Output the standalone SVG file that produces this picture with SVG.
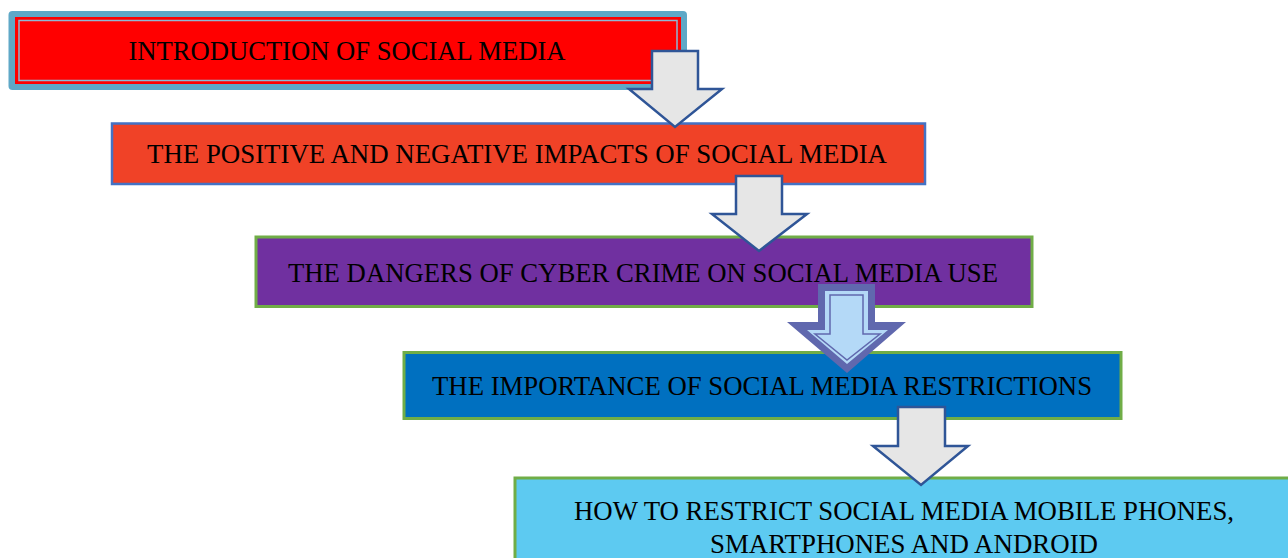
<svg xmlns="http://www.w3.org/2000/svg" width="1288" height="558" viewBox="0 0 1288 558">
<style>
.t{font-family:"Liberation Serif","Times New Roman",serif;font-size:27.5px;fill:#000;text-anchor:middle}
.arr{fill:#e6e6e6;stroke:#2f5597;stroke-width:2.5;stroke-linejoin:miter}
</style>
<rect width="1288" height="558" fill="#fff"/>
<g id="node1">
<rect x="8.5" y="11" width="678.5" height="79" rx="4" fill="#5fa8c7"/>
<rect x="15" y="17" width="666" height="67" fill="#ff0000"/>
<rect x="19" y="20.5" width="658" height="60" fill="none" stroke="#8fb8d4" stroke-width="1.5"/>
<text class="t" x="347" y="60" textLength="437" lengthAdjust="spacingAndGlyphs">INTRODUCTION OF SOCIAL MEDIA</text>
</g>
<g id="node2">
<rect x="112" y="123.5" width="813" height="60.5" fill="#f04227" stroke="#4472c4" stroke-width="2.5"/>
<text class="t" x="517" y="163" textLength="740" lengthAdjust="spacingAndGlyphs">THE POSITIVE AND NEGATIVE IMPACTS OF SOCIAL MEDIA</text>
</g>
<g id="node3">
<rect x="256" y="237" width="776" height="69.5" fill="#7030a0" stroke="#70ad47" stroke-width="3"/>
<text class="t" x="643" y="282" textLength="710" lengthAdjust="spacingAndGlyphs">THE DANGERS OF CYBER CRIME ON SOCIAL MEDIA USE</text>
</g>
<g id="node4">
<rect x="404" y="352.5" width="717" height="66" fill="#0070c0" stroke="#70ad47" stroke-width="3"/>
<text class="t" x="762" y="395" textLength="660" lengthAdjust="spacingAndGlyphs">THE IMPORTANCE OF SOCIAL MEDIA RESTRICTIONS</text>
</g>
<g id="node5">
<rect x="515" y="478" width="780" height="90" fill="#5dcaf1" stroke="#70ad47" stroke-width="3"/>
<text class="t" x="904" y="520" textLength="660" lengthAdjust="spacingAndGlyphs">HOW TO RESTRICT SOCIAL MEDIA MOBILE PHONES,</text>
<text class="t" x="904" y="553" textLength="388" lengthAdjust="spacingAndGlyphs">SMARTPHONES AND ANDROID</text>
</g>
<g id="connectors">
<polygon class="arr" points="652,51 698,51 698,89 722,89 675,127 629,89 652,89"/>
<polygon class="arr" points="736,176 782,176 782,214 807,214 759,251 712,214 736,214"/>
<polygon points="818,284 875,284 875,322 906,322 847,373 787,322 818,322" fill="#6068ae"/>
<polygon points="825,291 868,291 868,330 888,330 847,364 807,330 825,330" fill="#b4d9f7"/>
<polygon points="830,295 863,295 863,334 880,334 847,360 815,334 830,334" fill="#b4d9f7" stroke="#6068ae" stroke-width="1.5"/>
<polygon class="arr" points="898,407 945,407 945,446 968,446 921,485 873,446 898,446"/>
</g>
</svg>
